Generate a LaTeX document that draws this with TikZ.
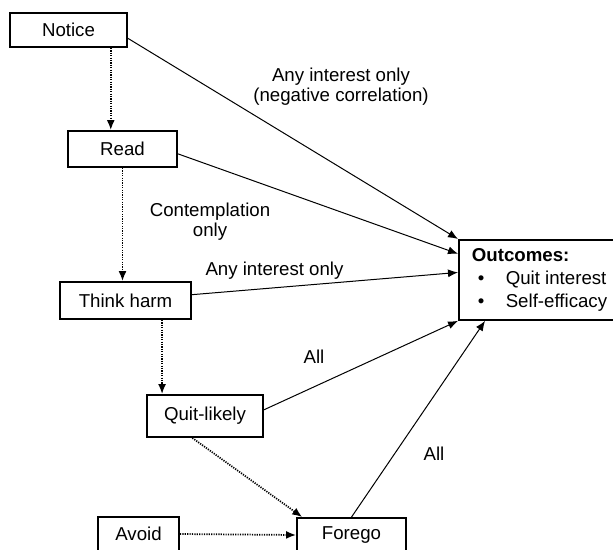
\documentclass[tikz,border=0pt]{standalone}
\usepackage{fontspec}
\setmainfont{Liberation Sans}
\usetikzlibrary{arrows.meta}

\begin{document}
\begin{tikzpicture}[x=0.75pt, y=-0.75pt,
    >={Latex[length=7.5pt,width=6pt]},
    stage/.style={draw, line width=1.4pt, inner sep=0pt, font=\fontsize{14}{15}\selectfont},
    lbl/.style={align=center, font=\fontsize{14}{15}\selectfont},
    link/.style={line width=0.75pt},
    flow/.style={line width=1.3pt, dash pattern=on 0.9pt off 0.9pt}]
    \useasboundingbox (0,0) rectangle (613,549);
    % stages
    \node[stage, minimum width=87.75pt, minimum height=25.5pt] (Nt) at (68.5,30) {Notice};
    \node[stage, minimum width=81.75pt, minimum height=27pt] (Rd) at (122.5,149) {Read};
    \node[stage, minimum width=98.25pt, minimum height=27.75pt] (TH) at (125.5,300.5) {Think harm};
    \node[stage, minimum width=87pt, minimum height=31.5pt] (QL) at (205,416) {Quit-likely};
    \node[stage, minimum width=60.75pt, minimum height=25.5pt] (Av) at (138.5,534) {Avoid};
    \node[stage, minimum width=81.75pt, minimum height=25.5pt] (Fg) at (351.5,535) {Forego};
    \node[stage, anchor=north west, inner xsep=9.75pt, minimum height=60pt,
          font=\fontsize{14}{17}\selectfont] (Oc) at (458,239) {
        \begin{tabular}{@{\hspace{4.5pt}}l@{\hspace{16pt}}l@{\hspace{6pt}}}
            \multicolumn{2}{@{}l}{\textbf{Outcomes:}} \\
            \textbullet & Quit interest \\
            \textbullet & Self-efficacy
        \end{tabular}
    };
    % labels
    \node[lbl] (lNeg) at (341,87) {Any interest only\\(negative correlation)};
    \node[lbl] (lCon) at (210,222) {Contemplation\\only};
    \node[lbl] (lAny) at (274.5,271) {Any interest only};
    \node[lbl] (lAll1) at (314,357) {All};
    \node[lbl] (lAll2) at (434,454) {All};
    % sequence
    \draw[->, flow] (Nt.-23) -- (Nt.-23 |- Rd.north);
    \draw[->, flow] (Rd.south) -- (Rd.south |- TH.north);
    \draw[->, flow] (TH.-28) -- (TH.-28 |- QL.north);
    \draw[->, flow] (QL.-120) -- (Fg.160);
    \draw[->, flow] (Av.east) -- (Fg.west);
    % effects on outcomes
    \draw[->, link] (Nt.-8) -- (Oc.north west);
    \draw[->, link] (Rd.-5) -- (Oc.163);
    \draw[->, link] (TH.5) -- (Oc.175);
    \draw[->, link] (QL.6) -- (Oc.south west);
    \draw[->, link] (Fg.north) -- (Oc.215);
\end{tikzpicture}
\end{document}
